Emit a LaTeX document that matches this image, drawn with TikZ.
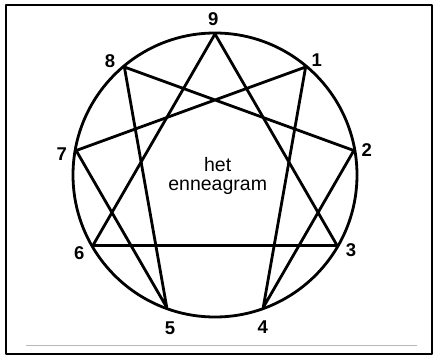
\documentclass[tikz,border=0pt]{standalone}
\usepackage{fontspec}
\setmainfont{Liberation Sans}
\usetikzlibrary{calc}
\begin{document}
\begin{tikzpicture}[x=1pt,y=1pt,line join=round,
  every node/.style={inner sep=0pt,font=\fontsize{18.5}{18.5}\selectfont\bfseries},
  fig/.style={line width=2.8pt}]
\useasboundingbox (0,0) rectangle (434,-356);
% frame and rule
\draw[line width=2.2pt] (6,-5) rectangle (432,-354);
\draw[gray!55,line width=1pt] (26,-345) -- (417,-345);
% circle and nine points
\coordinate (c) at (215,-175);
\draw[fig] (c) circle (142);
\foreach \k in {0,...,8}
  \coordinate (p\k) at ($(c)+({90-40*\k}:141)$);
% triangle 9-3-6
\draw[fig] (p0) -- (p3) -- (p6) -- cycle;
% hexad 1-4-2-8-5-7
\draw[fig] (p1) -- (p4) -- (p2) -- (p8) -- (p5) -- (p7) -- cycle;
% numbers
\node (n9) at (213.3,-19) {9};
\node (n1) at (316.7,-60) {1};
\node (n2) at (366.7,-150) {2};
\node (n3) at (351,-250) {3};
\node (n4) at (262.7,-327.3) {4};
\node (n5) at (170,-328.3) {5};
\node (n6) at (79.3,-253.3) {6};
\node (n7) at (61.7,-154) {7};
\node (n8) at (110,-61) {8};
\node[font=\fontsize{19.5}{18.5}\selectfont,align=center] (title) at (217.7,-176) {het\\enneagram};
\end{tikzpicture}
\end{document}
